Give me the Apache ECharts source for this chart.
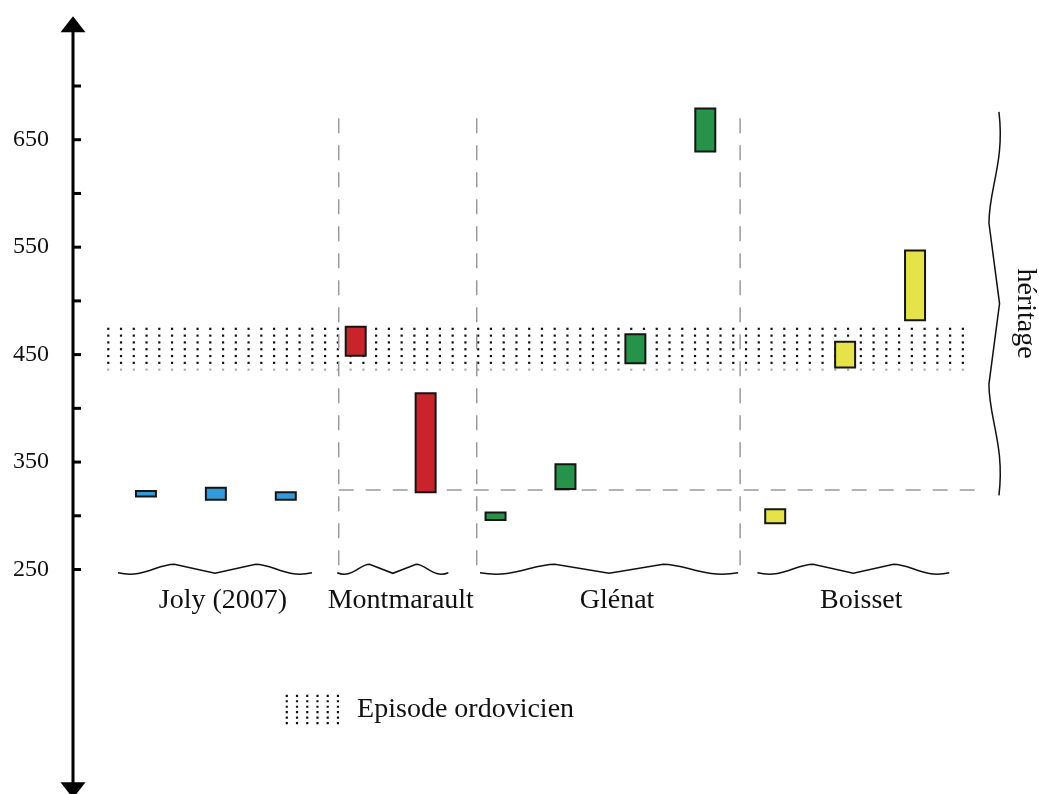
<!DOCTYPE html>
<html>
<head>
<meta charset="utf-8">
<script src="https://cdn.jsdelivr.net/npm/echarts@6/dist/echarts.min.js"></script>
<style>
  html, body { margin: 0; padding: 0; background: #ffffff; }
  #chart { width: 1039px; height: 794px; }
</style>
</head>
<body>
<div id="chart"></div>
<script>
// Zircon ages (Ma), [min, max] for each dated sample, grouped by locality
const groupNames = ['Joly (2007)', 'Montmarault', 'Glénat', 'Boisset'];
const jolyAges = [[318, 323], [315, 326], [315, 322]];
const montmaraultAges = [[449, 476], [322, 414]];
const glenatAges = [[296, 303], [325, 348], [442, 469], [639, 679]];
const boissetAges = [[293, 306], [438, 462], [482, 547]];

// Age axis
const ageTickLabels = [250, 350, 450, 550, 650];
const ageTickRange = [250, 700];
const ageTickStep = 50;
const axisRange = [37, 765];

// Ordovician episode (dotted band) and inherited-age domain
const ordovicienEpisode = [436, 474];
const heritageLimit = 324;
const heritageRange = [319, 676];
const legendName = 'Episode ordovicien';
const heritageName = 'héritage';

// ---- layout / style ----
const FONT = "'Liberation Serif', 'Times New Roman', serif";
const AXIS_OFFSET = 38;
const BAR_WIDTH = 0.286;                 // in sample slots
const groupColors = ['#3499d8', '#c9242c', '#27924a', '#e6e34a'];
const braceSpans = [[-0.40, 2.375], [2.736, 4.325], [4.778, 8.47], [8.745, 11.49]];
const braceBase = 247;                   // age level of the group braces
const separators = [2.757, 4.731, 8.498];
const separatorRange = [247.6, 670];
const heritageLineX = [2.757, 11.86];
const bandX = [-0.539, 11.684];
const heritageBraceX = 12.2;

const groupAges = [jolyAges, montmaraultAges, glenatAges, boissetAges];

// brace drawn between two pixel points; tipDir is the unit normal pointing to the tip
function bracePath(p0, p1, tipDir, depth) {
  const dx = p1[0] - p0[0], dy = p1[1] - p0[1];
  const L = Math.hypot(dx, dy);
  const u = [dx / L, dy / L];
  const pt = (s, t) => [p0[0] + u[0] * s + tipDir[0] * t, p0[1] + u[1] * s + tipDir[1] * t];
  const f = p => p[0].toFixed(2) + ' ' + p[1].toFixed(2);
  const E0 = pt(0, 0), H1 = pt(0.29 * L, -depth), M = pt(0.5 * L, 0.6),
        H2 = pt(0.71 * L, -depth), E1 = pt(L, 0);
  return 'M' + f(E0) +
    ' C' + f(pt(0.13 * L, 6)) + ' ' + f(pt(0.2 * L, -depth)) + ' ' + f(H1) +
    ' L' + f(M) + ' L' + f(H2) +
    ' C' + f(pt(0.8 * L, -depth)) + ' ' + f(pt(0.87 * L, 6)) + ' ' + f(E1);
}

// legend icon: small grid of dots
let dotsIcon = 'path://';
for (let r = 0; r < 6; r++) {
  for (let c = 0; c < 6; c++) {
    dotsIcon += 'M' + (c * 10.3) + ' ' + (r * 5.5) + 'h2.2v2.2h-2.2Z';
  }
}

let slot = 0;
const barSeries = groupAges.map((ages, g) => {
  const data = ages.map(([lo, hi]) => [slot++, lo, hi]);
  return {
    type: 'custom',
    name: groupNames[g],
    z: 5,
    data: data,
    encode: { x: 0, y: [1, 2] },
    renderItem: (params, api) => {
      const x = api.value(0), lo = api.value(1), hi = api.value(2);
      const pLo = api.coord([x, lo]);
      const pHi = api.coord([x, hi]);
      const w = api.size([BAR_WIDTH, 0])[0];
      return {
        type: 'rect',
        shape: { x: pLo[0] - w / 2, y: pHi[1], width: w, height: pLo[1] - pHi[1] },
        style: { fill: groupColors[g], stroke: '#151515', lineWidth: 2 }
      };
    }
  };
});

const dashStyle = { stroke: '#9a9a9a', lineWidth: 1.5, lineDash: [15, 12] };

const series = [
  // vertical age axis with arrows at both ends and inward ticks
  {
    type: 'custom', name: 'axis', z: 4, silent: true,
    data: [[0, axisRange[0], axisRange[1]]],
    renderItem: (params, api) => {
      const x = api.coord([-0.5, 0])[0] - AXIS_OFFSET;
      const yTop = api.coord([0, api.value(2)])[1];
      const yBot = api.coord([0, api.value(1)])[1];
      const ah = 16, aw = 12.5;
      const children = [
        { type: 'line', shape: { x1: x, y1: yTop + ah - 2, x2: x, y2: yBot - ah + 2 },
          style: { stroke: '#000', lineWidth: 3 } },
        { type: 'polygon', shape: { points: [[x, yTop], [x - aw, yTop + ah], [x + aw, yTop + ah]] },
          style: { fill: '#000' } },
        { type: 'polygon', shape: { points: [[x, yBot], [x - aw, yBot - ah], [x + aw, yBot - ah]] },
          style: { fill: '#000' } }
      ];
      for (let v = ageTickRange[0]; v <= ageTickRange[1]; v += ageTickStep) {
        const y = api.coord([0, v])[1];
        children.push({ type: 'line', shape: { x1: x, y1: y, x2: x + 8, y2: y },
                        style: { stroke: '#000', lineWidth: 3 } });
      }
      return { type: 'group', children: children };
    }
  },
  // Ordovician episode: dotted band
  {
    type: 'custom', name: legendName, z: 1,
    itemStyle: { color: '#111' },
    data: [[0, ordovicienEpisode[0], ordovicienEpisode[1]]],
    renderItem: (params, api) => {
      const p0 = api.coord([bandX[0], api.value(2)]);
      const p1 = api.coord([bandX[1], api.value(1)]);
      const cols = 68, rows = 7;
      const dx = (p1[0] - p0[0]) / (cols - 1);
      const dy = (p1[1] - p0[1]) / (rows - 1);
      const children = [];
      for (let r = 0; r < rows; r++) {
        for (let c = 0; c < cols; c++) {
          children.push({
            type: 'rect',
            shape: { x: p0[0] + c * dx - 1.1, y: p0[1] + r * dy - 1.1, width: 2.2, height: 2.2 },
            style: { fill: r === rows - 1 ? '#b0b0b0' : '#111' }
          });
        }
      }
      return { type: 'group', children: children };
    }
  },
  // dashed guides: locality separators and lower limit of inherited ages
  {
    type: 'custom', name: 'guides', z: 2, silent: true,
    data: [[0, heritageLimit]],
    renderItem: (params, api) => {
      const children = separators.map(sx => {
        const a = api.coord([sx, separatorRange[1]]);
        const b = api.coord([sx, separatorRange[0]]);
        return { type: 'line', shape: { x1: a[0], y1: a[1], x2: b[0], y2: b[1] }, style: dashStyle };
      });
      const h0 = api.coord([heritageLineX[0], api.value(1)]);
      const h1 = api.coord([heritageLineX[1], api.value(1)]);
      children.push({ type: 'line', shape: { x1: h0[0], y1: h0[1], x2: h1[0], y2: h1[1] }, style: dashStyle });
      return { type: 'group', children: children };
    }
  },
  // locality braces and names
  {
    type: 'custom', name: 'localities', z: 3, silent: true,
    data: groupNames.map((n, i) => [i, braceBase]),
    renderItem: (params, api) => {
      const i = params.dataIndex;
      const span = braceSpans[i];
      const a = api.coord([span[0], api.value(1)]);
      const b = api.coord([span[1], api.value(1)]);
      return {
        type: 'group',
        children: [
          { type: 'path', shape: { pathData: bracePath(a, b, [0, 1], 8.5) },
            style: { fill: null, stroke: '#111', lineWidth: 1.5 } },
          { type: 'text', x: (a[0] + b[0]) / 2 + 8, y: a[1] + 28,
            style: { text: groupNames[i], fill: '#111', font: '28px ' + FONT,
                     align: 'center', verticalAlign: 'middle' } }
        ]
      };
    }
  },
  // inherited-age brace on the right
  {
    type: 'custom', name: 'heritage', z: 3, silent: true,
    data: [[heritageBraceX, heritageRange[0], heritageRange[1]]],
    renderItem: (params, api) => {
      const top = api.coord([api.value(0), api.value(2)]);
      const bot = api.coord([api.value(0), api.value(1)]);
      return {
        type: 'group',
        children: [
          { type: 'path', shape: { pathData: bracePath(top, bot, [1, 0], 10) },
            style: { fill: null, stroke: '#111', lineWidth: 1.5 } },
          { type: 'text', x: top[0] + 26, y: (top[1] + bot[1]) / 2 + 10, rotation: -Math.PI / 2,
            style: { text: heritageName, fill: '#111', font: '28px ' + FONT,
                     align: 'center', verticalAlign: 'middle' } }
        ]
      };
    }
  }
].concat(barSeries);

const chart = echarts.init(document.getElementById('chart'), null, { renderer: 'canvas' });
chart.setOption({
  backgroundColor: '#ffffff',
  animation: false,
  grid: { left: 111, right: 89, top: 86, bottom: 224.5, containLabel: false },
  xAxis: { type: 'value', min: -0.5, max: 11.5, show: false },
  yAxis: {
    type: 'value', min: ageTickRange[0], max: ageTickRange[1], interval: ageTickStep, offset: AXIS_OFFSET,
    axisLine: { show: false },
    axisTick: { show: false },
    axisLabel: {
      margin: 24, color: '#111', fontFamily: FONT, fontSize: 24,
      formatter: v => (ageTickLabels.indexOf(v) >= 0 ? String(v) : '')
    },
    splitLine: { show: false }
  },
  legend: {
    data: [legendName], left: 285.7, top: 694.7, padding: 0,
    itemWidth: 53.5, itemHeight: 29.5, icon: dotsIcon, selectedMode: false,
    itemStyle: { color: '#111', borderWidth: 0 },
    textStyle: { color: '#111', fontFamily: FONT, fontSize: 28, padding: [0, 0, 0, 13] }
  },
  tooltip: { show: false },
  series: series
});
</script>
</body>
</html>
